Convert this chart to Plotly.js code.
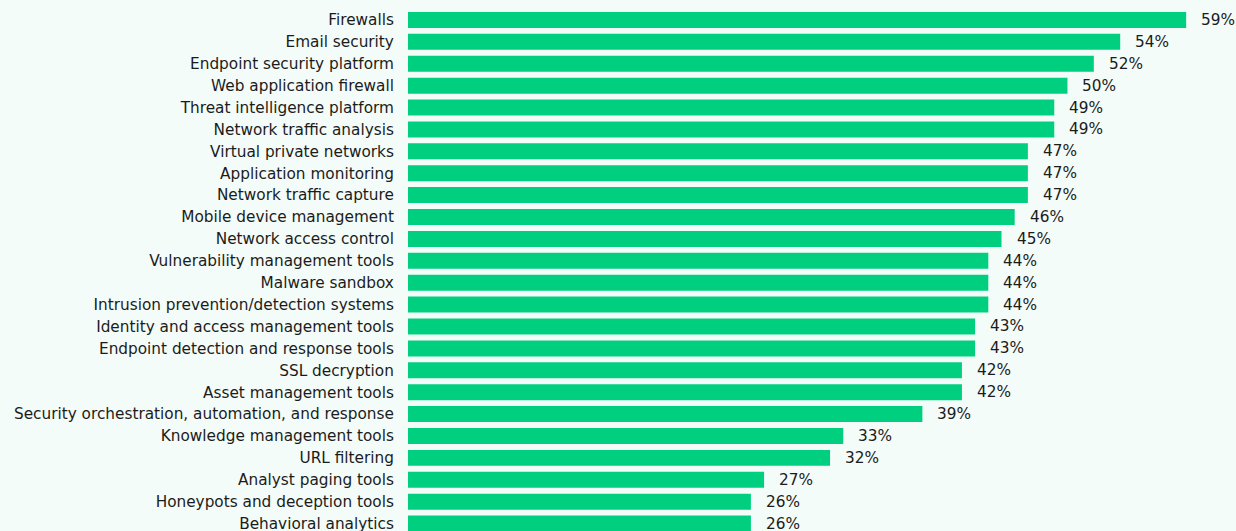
<!DOCTYPE html>
<html><head><meta charset="utf-8">
<script src="https://cdn.plot.ly/plotly-3.0.1.min.js"></script>
<style>html,body{margin:0;padding:0;background:#f3fcf8;}#chart{width:1236px;height:531px;}</style>
</head><body><div id="chart"></div>
<script>
const categories = ["Firewalls","Email security","Endpoint security platform","Web application firewall","Threat intelligence platform","Network traffic analysis","Virtual private networks","Application monitoring","Network traffic capture","Mobile device management","Network access control","Vulnerability management tools","Malware sandbox","Intrusion prevention/detection systems","Identity and access management tools","Endpoint detection and response tools","SSL decryption","Asset management tools","Security orchestration, automation, and response","Knowledge management tools","URL filtering","Analyst paging tools","Honeypots and deception tools","Behavioral analytics"];
const values = [59,54,52,50,49,49,47,47,47,46,45,44,44,44,43,43,42,42,39,33,32,27,26,26];
const valueLabels = values.map(v => v + "%");

const fontFam = "'DejaVu Sans', sans-serif";
const trace = {
  type: "bar", orientation: "h",
  x: values, y: categories,
  marker: {color: "#00cf80"},
  hoverinfo: "skip"
};
const annotations = values.map((v, i) => ({
  x: v, y: categories[i], xref: "x", yref: "y",
  text: valueLabels[i], showarrow: false,
  xanchor: "left", yanchor: "middle", xshift: 13,
  font: {family: fontFam, size: 15.3, color: "#1b1b1b"}
}));
const layout = {
  width: 1236, height: 531,
  paper_bgcolor: "#f3fcf8", plot_bgcolor: "#f3fcf8",
  margin: {l: 408, r: 0, t: 9, b: 0},
  bargap: 0.27,
  showlegend: false,
  xaxis: {range: [0, 62.78], visible: false, fixedrange: true},
  yaxis: {
    type: "category", categoryorder: "array", categoryarray: categories,
    range: [23.34, -0.5], automargin: false,
    showgrid: false, zeroline: false, showline: false,
    ticks: "outside", ticklen: 10, tickcolor: "rgba(0,0,0,0)",
    tickfont: {family: fontFam, size: 15.3, color: "#1b1b1b"}
  },
  annotations: annotations
};
Plotly.newPlot("chart", [trace], layout, {displayModeBar: false, staticPlot: true});
</script></body></html>
